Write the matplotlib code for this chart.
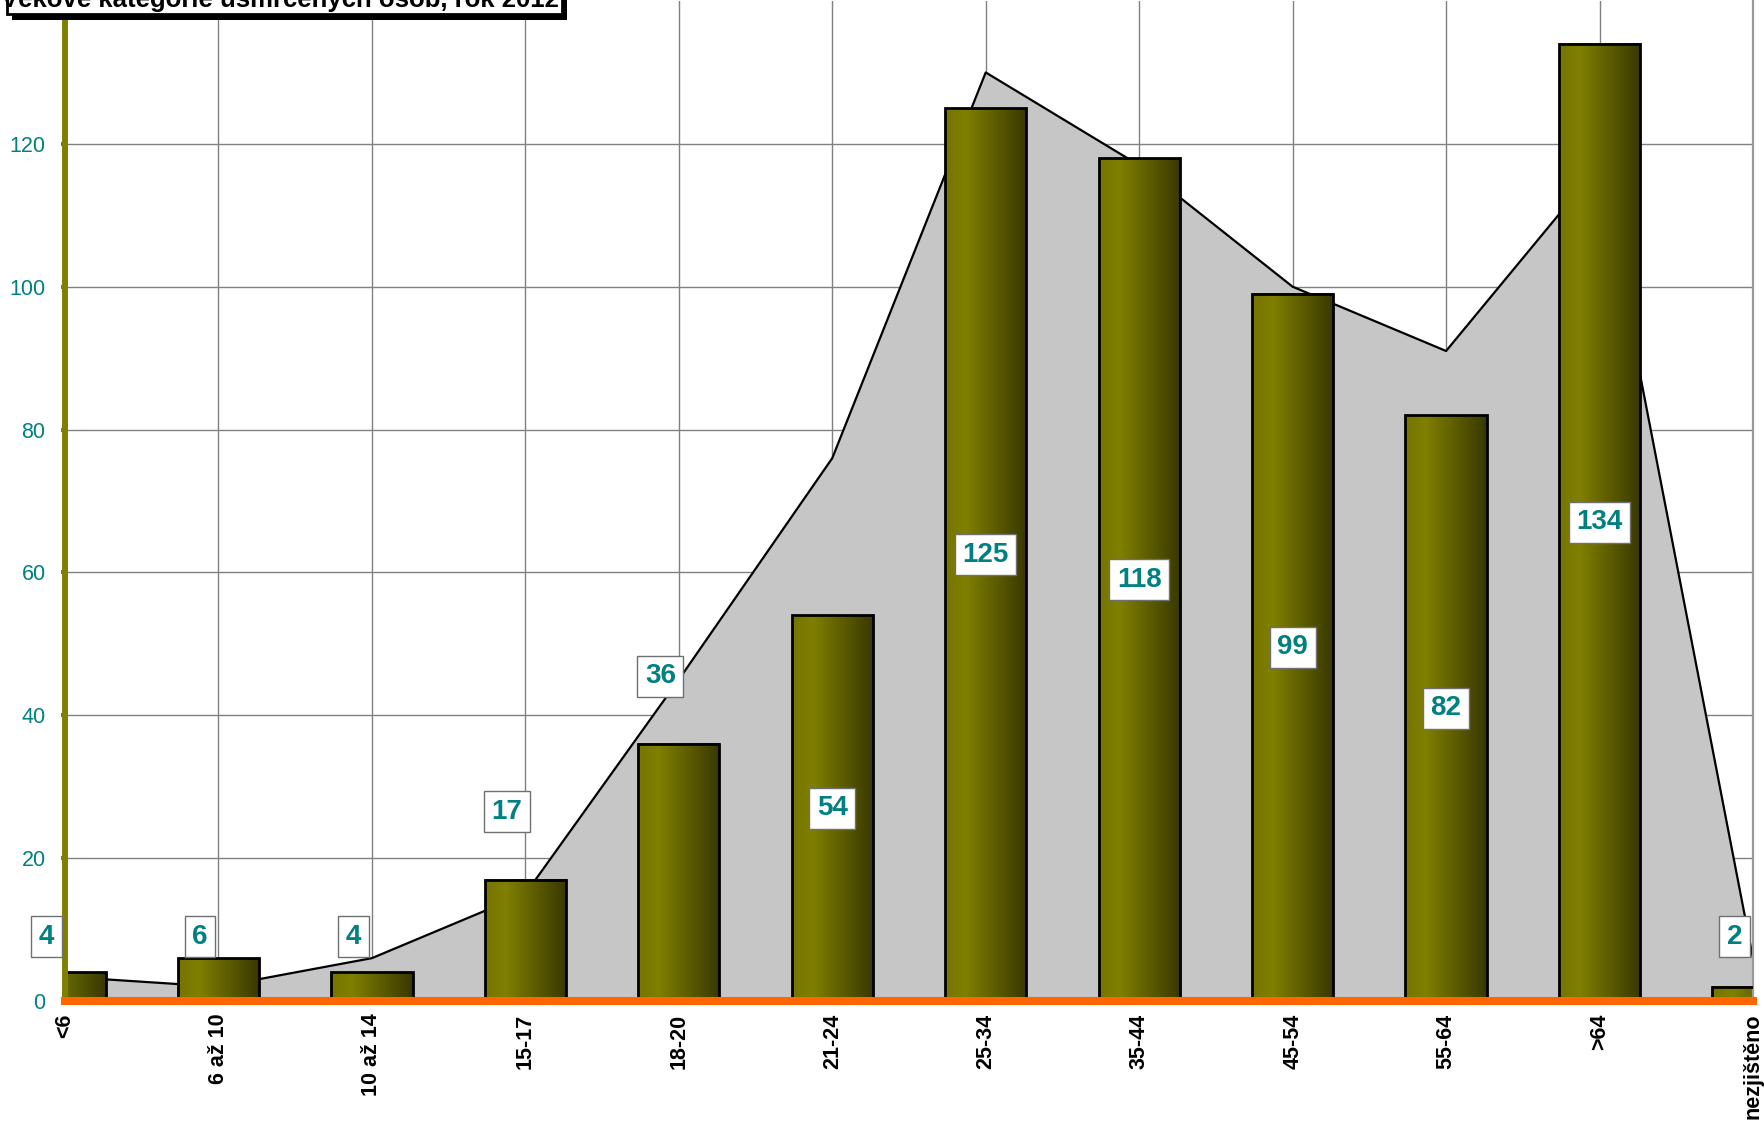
import numpy as np
import matplotlib
matplotlib.use("Agg")
import matplotlib.pyplot as plt
from matplotlib.colors import LinearSegmentedColormap
from matplotlib.patches import Rectangle

plt.rcParams['font.family'] = ['Liberation Sans', 'DejaVu Sans']

# data
categories = ["<6", "6 až 10", "10 až 14", "15-17", "18-20", "21-24",
              "25-34", "35-44", "45-54", "55-64", ">64", "nezjištěno"]
killed = [4, 6, 4, 17, 36, 54, 125, 118, 99, 82, 134, 2]
background_area = [3.4, 2, 6, 15, 45, 76, 130, 117, 100, 91, 117, 6]
y_ticks = [0, 20, 40, 60, 80, 100, 120]
title = "Věkové kategorie usmrcených osob, rok 2012"

OLIVE = "#808000"
TEAL = "#008080"
ORANGE = "#FF6600"

W, H = 1764, 1123
fig = plt.figure(figsize=(W / 100, H / 100), dpi=100)
ax = fig.add_axes([65 / W, (H - 1001) / H, (1753 - 65) / W, 1000 / H])

x = np.arange(len(categories))

# grey area series behind the bars
ax.fill_between(x, background_area, 0, color="#C6C6C6", zorder=1, lw=0)
ax.plot(x, background_area, color="black", lw=1.6, zorder=1.5)

# bars with horizontal olive gradient
bar_w = 0.53
bars = ax.bar(x, killed, width=bar_w, facecolor="none", edgecolor="black",
              linewidth=2, zorder=3)
grad_cmap = LinearSegmentedColormap.from_list(
    "olive", [(0.0, (0.46, 0.46, 0.0)), (0.25, (0.5, 0.5, 0.0)),
              (1.0, (0.22, 0.22, 0.0))])
grad = np.linspace(0, 1, 256).reshape(1, -1)
for b in bars:
    x0, w, h = b.get_x(), b.get_width(), b.get_height()
    ax.imshow(grad, cmap=grad_cmap, extent=[x0, x0 + w, 0, h],
              aspect="auto", zorder=2.5, interpolation="bilinear")

# value labels
for xi, v in zip(x, killed):
    if v >= 50:
        ly, lx = v / 2, xi
    elif v < 10:
        ly, lx = 9, xi - 0.12
    else:
        ly, lx = v + 9.5, xi - 0.12
    ax.text(lx, ly, str(v), ha="center", va="center", color=TEAL,
            fontsize=20, fontweight="bold", zorder=5, clip_on=False,
            bbox=dict(boxstyle="square,pad=0.27", facecolor="white",
                      edgecolor="#707070", linewidth=1))

ax.set_xlim(0, len(categories) - 1)
ax.set_ylim(0, 140)
ax.set_yticks(y_ticks)
ax.set_xticks(x)
ax.set_xticklabels(categories, rotation=90, fontsize=15.5, fontweight="bold",
                   va="top")
ax.grid(True, color="#808080", lw=1, zorder=0)
ax.set_axisbelow(True)

ax.tick_params(axis="y", colors=OLIVE, labelcolor=TEAL, labelsize=15.5,
               length=3, width=3, pad=11)
ax.tick_params(axis="x", colors=ORANGE, labelcolor="black", length=3,
               width=3, pad=6)

ax.spines["top"].set_visible(False)
ax.spines["left"].set_color(OLIVE)
ax.spines["left"].set_linewidth(4.3)
ax.spines["left"].set_zorder(4)
ax.spines["bottom"].set_color(ORANGE)
ax.spines["bottom"].set_linewidth(5.8)
ax.spines["bottom"].set_zorder(4)
ax.spines["right"].set_color("#9a9a9a")
ax.spines["right"].set_linewidth(1.6)

# title box, partly cut off by the top edge
fig.patches.append(Rectangle((12 / W, (H - 20) / H), 555 / W, 60 / H,
                             transform=fig.transFigure, facecolor="black",
                             edgecolor="none", zorder=6))
fig.patches.append(Rectangle((7 / W, (H - 14) / H), 555 / W, 60 / H,
                             transform=fig.transFigure, facecolor="white",
                             edgecolor="black", lw=2, zorder=7))
fig.text(280 / W, (H - 7) / H, title, ha="center", va="baseline",
         fontsize=18.5, fontweight="bold", color="black", zorder=8)

fig.savefig("out.png", dpi=100)
